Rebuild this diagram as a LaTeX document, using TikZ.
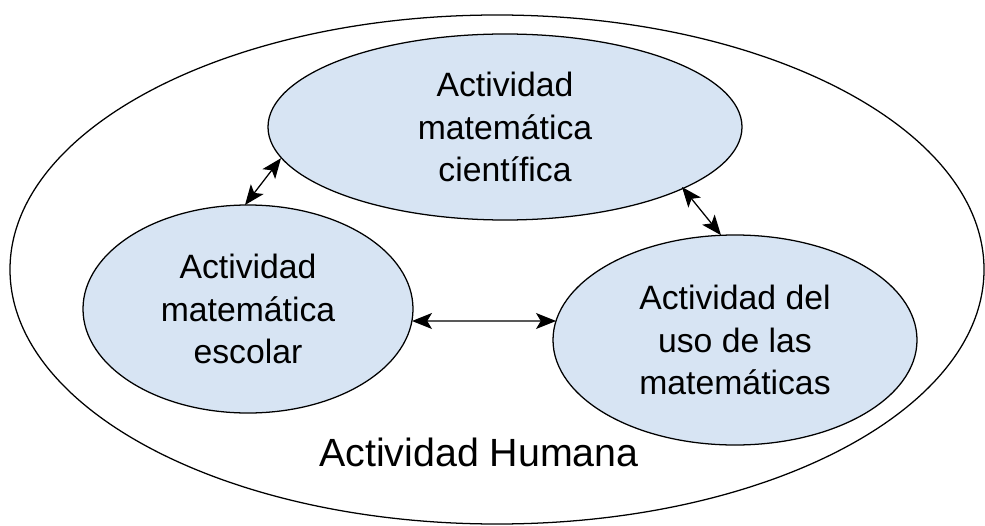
\documentclass[tikz,border=0pt]{standalone}
\usepackage{fontspec}
\setmainfont{Liberation Sans}
\usetikzlibrary{shapes.geometric,arrows.meta,calc}
\definecolor{fondo}{RGB}{215,228,243}

\begin{document}
\begin{tikzpicture}[
  actividad/.style={ellipse, draw, line width=0.9pt, fill=fondo, inner sep=0pt, outer sep=0pt, align=center, font=\fontsize{24}{30}\selectfont},
  enlace/.style={{Stealth[length=0.5cm,width=0.4cm,inset=0.12cm]}-{Stealth[length=0.5cm,width=0.4cm,inset=0.12cm]}, line width=0.9pt}
]
  \useasboundingbox (0,0) rectangle (24.625,13.125);
  \draw[line width=0.9pt] (12.425,6.3875) ellipse [x radius=12.175, y radius=6.3625];
  \node[actividad, minimum width=11.85cm, minimum height=4.65cm] (cientifica) at (12.625,9.95) {Actividad\\matemática\\científica};
  \node[actividad, minimum width=8.25cm, minimum height=5.2cm] (escolar) at (6.2,5.4) {Actividad\\matemática\\escolar};
  \node[actividad, minimum width=9.1cm, minimum height=5.25cm] (uso) at (18.375,4.625) {Actividad del\\uso de las\\matemáticas};
  \node[anchor=base, font=\fontsize{28}{34}\selectfont] (humana) at (11.975,1.475) {Actividad Humana};
  \draw[enlace] ($(escolar.center)+(-0.075,2.6)$) -- ($(cientifica.center)+(-5.6,-0.78)$);
  \draw[enlace] ($(cientifica.center)+(4.425,-1.5)$) -- ($(uso.center)+(-0.35,2.62)$);
  \draw[enlace] ($(escolar.center)+(4.1,-0.3)$) -- ($(uso.center)+(-4.475,0.475)$);
\end{tikzpicture}
\end{document}
